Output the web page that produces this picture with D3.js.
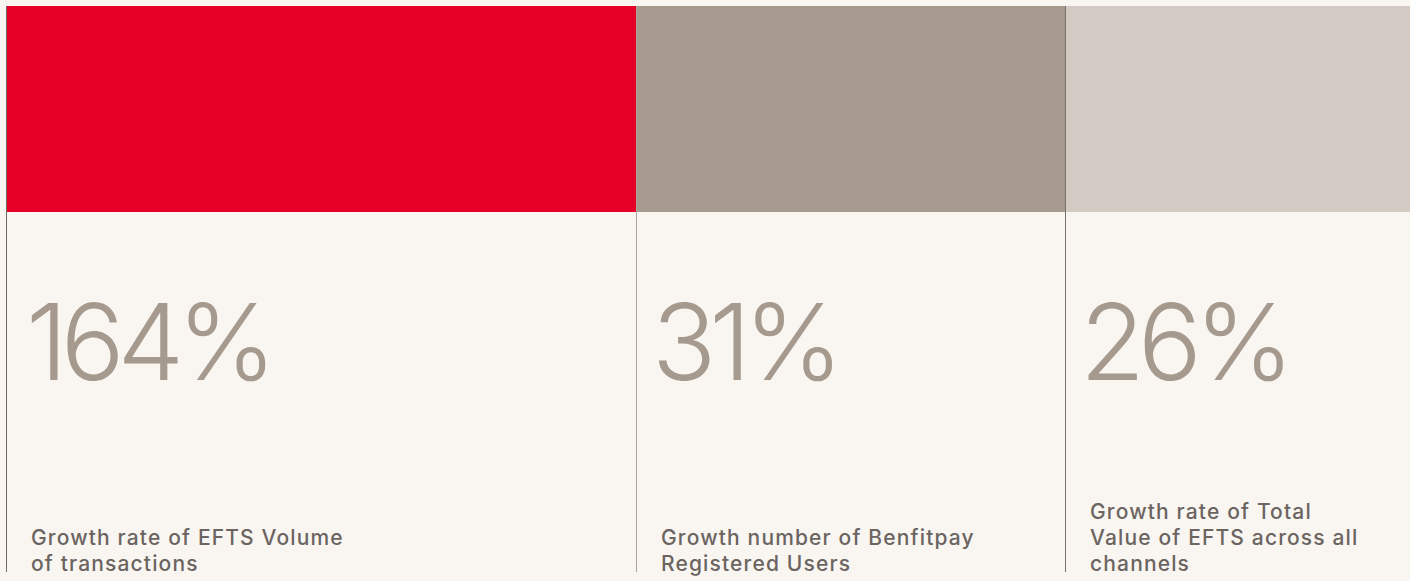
<!DOCTYPE html>
<html lang="en">
<head>
  <meta charset="UTF-8">
  <title>EFTS growth</title>
  <script src="https://d3js.org/d3.v7.min.js"></script>
  <style>
    html, body { margin: 0; padding: 0; background: #f9f6f1; }
    svg { display: block; }
  </style>
</head>
<body>
  <svg width="1410" height="581"></svg>

  <script>
    // Data
    const categories = ["efts_volume", "benefitpay_users", "efts_value"];
    const values = [164, 31, 26];
    const labels = [
      ["Growth rate of EFTS Volume", "of transactions"],
      ["Growth number of Benfitpay", "Registered Users"],
      ["Growth rate of Total", "Value of EFTS across all", "channels"]
    ];
    const colors = ["#e60028", "#a69a8e", "#d3cac4"];
    const lineColors = ["#6e6763", "#aaa29d", "#77706b"];

    const svg = d3.select("svg");
    const W = 1410, H = 581;

    // Column edges (layout)
    const edges = [6, 636, 1065, W];
    const xScale = d3.scaleOrdinal().domain(categories).range(edges.slice(0, 3));
    const wScale = d3.scaleOrdinal().domain(categories)
      .range(edges.slice(1).map((e, i) => e - edges[i]));

    const barTop = 6, barBottom = 212, lineBottom = 572;
    const numOffset = [20, 16, 15];

    const data = categories.map((c, i) => ({
      key: c, value: values[i], label: labels[i], color: colors[i], line: lineColors[i], i
    }));

    const col = svg.selectAll(".col")
      .data(data)
      .enter().append("g")
      .attr("class", "col")
      .attr("transform", d => `translate(${xScale(d.key)},0)`);

    // Coloured header blocks
    col.append("rect")
      .attr("x", 0)
      .attr("y", barTop)
      .attr("width", d => wScale(d.key))
      .attr("height", barBottom - barTop)
      .attr("fill", d => d.color);

    // Separator lines
    col.append("line")
      .attr("x1", 0.5).attr("x2", 0.5)
      .attr("y1", barTop).attr("y2", lineBottom)
      .attr("stroke", d => d.line)
      .attr("stroke-width", 1);

    // Big percentages
    col.append("text")
      .attr("x", d => numOffset[d.i])
      .attr("y", 380)
      .attr("font-family", "Inter, 'Open Sans', sans-serif")
      .attr("font-weight", 300)
      .attr("font-size", 106)
      .attr("letter-spacing", -7)
      .attr("fill", "#a69a8e")
      .text(d => d.value + "%");

    // Descriptions, bottom aligned
    col.append("text")
      .attr("font-family", "Inter, 'Open Sans', sans-serif")
      .attr("font-weight", 500)
      .attr("font-size", 21)
      .attr("letter-spacing", 1.15)
      .attr("fill", "#6b6461")
      .selectAll("tspan")
      .data(d => d.label.map((t, j) => ({ t, j, n: d.label.length })))
      .enter().append("tspan")
      .attr("x", 25)
      .attr("y", d => 571 - (d.n - 1 - d.j) * 26)
      .text(d => d.t);
  </script>
</body>
</html>
